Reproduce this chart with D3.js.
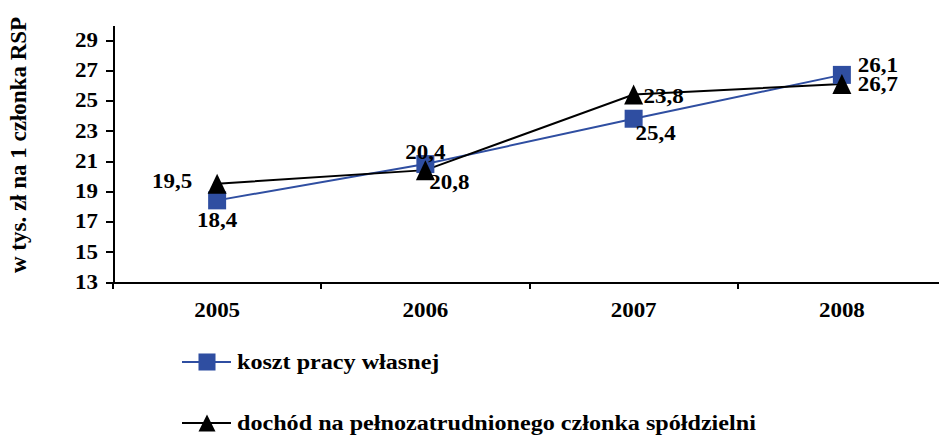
<!DOCTYPE html>
<meta charset="utf-8">
<style type="text/css">
  body { margin: 0; background: #fff; }
  text { font-family: "Liberation Serif", "Times New Roman", serif; font-weight: bold; fill: #000; }
  .axis path, .axis line { stroke: #000; stroke-width: 2px; shape-rendering: crispEdges; }
</style>
<body>
<div class="chart"></div>
<script src="https://d3js.org/d3.v7.min.js"></script>
<script>

// data
var years = ["2005", "2006", "2007", "2008"];
var kosztPracy = [18.4, 20.8, 23.8, 26.7];
var dochod = [19.5, 20.4, 25.4, 26.1];
// labels as printed on the chart
var kosztLabels = ["18,4", "20,4", "25,4", "26,1"];
var dochodLabels = ["19,5", "20,8", "23,8", "26,7"];
var yTicks = [13, 15, 17, 19, 21, 23, 25, 27, 29];
var seriesNames = ["koszt pracy własnej", "dochód na pełnozatrudnionego członka spółdzielni"];
var yTitle = "w tys. zł na 1 członka RSP";

var width = 939, height = 435;
var margin = {top: 25, left: 113};
var stretch = "scale(1.15,1)"; // the source text is a bit wide

var svg = d3.select(".chart").append("svg")
    .attr("width", width)
    .attr("height", height);

var x = d3.scaleBand()
    .domain(years)
    .range([margin.left, 946]);

var y = d3.scaleLinear()
    .domain([13, 30])
    .range([282, margin.top]);

var cx = function(i){ return x(years[i]) + x.bandwidth() / 2; };

// y axis
var yAxis = svg.append("g")
    .attr("class", "axis")
    .attr("transform", "translate(" + margin.left + ",0)")
    .call(d3.axisLeft(y).tickValues(yTicks).tickSize(7).tickSizeOuter(0).tickPadding(6));
yAxis.selectAll("text")
    .style("font-size", "20px")
    .attr("fill", "#000")
    .attr("transform", stretch);

// x axis, ticks sit between categories
var xAxis = svg.append("g")
    .attr("class", "axis")
    .attr("transform", "translate(0,282)")
    .call(d3.axisBottom(x).tickSize(0).tickSizeOuter(0).tickPadding(21));
xAxis.selectAll("text")
    .style("font-size", "20px")
    .attr("fill", "#000")
    .attr("transform", stretch);
xAxis.selectAll(".sep")
    .data(years)
    .enter().append("line")
    .attr("x1", function(d){ return x(d); })
    .attr("x2", function(d){ return x(d); })
    .attr("y1", 0).attr("y2", 7);

svg.append("text")
    .attr("transform", "translate(18,145) rotate(-90)")
    .attr("text-anchor", "middle")
    .attr("dy", "0.35em")
    .style("font-size", "23px")
    .text(yTitle);

var line = d3.line()
    .x(function(d, i){ return cx(i); })
    .y(function(d){ return y(d); });

var blue = "#2F4EA1";

svg.append("path")
    .datum(kosztPracy)
    .attr("d", line)
    .attr("fill", "none")
    .attr("stroke", blue)
    .attr("stroke-width", 2);

svg.append("path")
    .datum(dochod)
    .attr("d", line)
    .attr("fill", "none")
    .attr("stroke", "#000")
    .attr("stroke-width", 2);

// narrow triangle like the source marker
function triangle(w, h){
  return {
    draw: function(ctx){
      ctx.moveTo(0, -h / 2);
      ctx.lineTo(w / 2, h / 2);
      ctx.lineTo(-w / 2, h / 2);
      ctx.closePath();
    }
  };
}

var sq = d3.symbol().type(d3.symbolSquare).size(324);
var tri = d3.symbol().type(triangle(19, 20));

svg.selectAll(".sq")
    .data(kosztPracy)
    .enter().append("path")
    .attr("transform", function(d, i){ return "translate(" + cx(i) + "," + y(d) + ")"; })
    .attr("d", sq)
    .attr("fill", blue);

svg.selectAll(".tri")
    .data(dochod)
    .enter().append("path")
    .attr("transform", function(d, i){ return "translate(" + cx(i) + "," + y(d) + ")"; })
    .attr("d", tri)
    .attr("fill", "#000");

// label offsets
var kosztOff = [[0, 20], [0, -12], [22, 14], [36, -10]];
var dochodOff = [[-45, -3], [24, 12], [30, 1], [36, 0]];

svg.selectAll(".kl")
    .data(kosztLabels)
    .enter().append("text")
    .attr("transform", function(d, i){
      return "translate(" + (cx(i) + kosztOff[i][0]) + "," + (y(kosztPracy[i]) + kosztOff[i][1]) + ") " + stretch;
    })
    .attr("text-anchor", "middle")
    .attr("dy", "0.35em")
    .style("font-size", "20px")
    .text(function(d){ return d; });

svg.selectAll(".dl")
    .data(dochodLabels)
    .enter().append("text")
    .attr("transform", function(d, i){
      return "translate(" + (cx(i) + dochodOff[i][0]) + "," + (y(dochod[i]) + dochodOff[i][1]) + ") " + stretch;
    })
    .attr("text-anchor", "middle")
    .attr("dy", "0.35em")
    .style("font-size", "20px")
    .text(function(d){ return d; });

// legend
var legend = svg.selectAll(".legend")
    .data(seriesNames)
    .enter().append("g")
    .attr("transform", function(d, i){ return "translate(182," + (362 + i * 61) + ")"; });

legend.append("line")
    .attr("x1", 0).attr("x2", 49)
    .attr("stroke", function(d, i){ return i === 0 ? blue : "#000"; })
    .attr("stroke-width", 2);

legend.append("path")
    .attr("transform", "translate(25,0)")
    .attr("d", function(d, i){
      return i === 0 ? d3.symbol().type(d3.symbolSquare).size(290)() : d3.symbol().type(triangle(17, 17))();
    })
    .attr("fill", function(d, i){ return i === 0 ? blue : "#000"; });

legend.append("text")
    .attr("transform", "translate(55,0) " + stretch)
    .attr("dy", "0.35em")
    .style("font-size", "21px")
    .text(function(d){ return d; });

</script>
</body>
